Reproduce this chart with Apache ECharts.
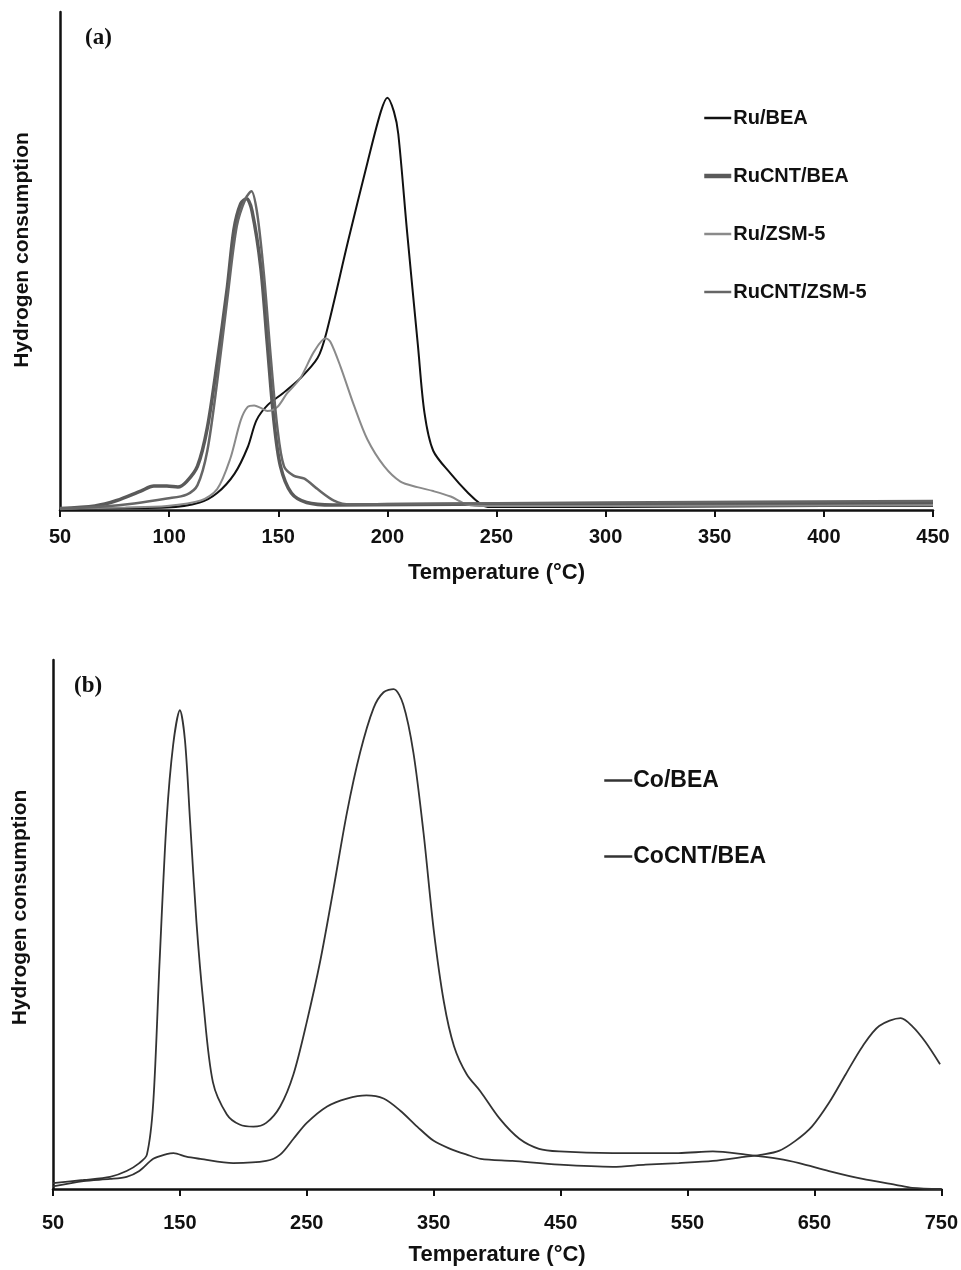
<!DOCTYPE html>
<html>
<head>
<meta charset="utf-8">
<script src="https://cdn.jsdelivr.net/npm/echarts@6/dist/echarts.min.js"></script>
<style>
  html, body { margin: 0; padding: 0; background: #fff; }
  #chart { width: 961px; height: 1270px; }
</style>
</head>
<body>
<div id="chart"></div>
<script>
// (a) Ru catalysts - temperature (°C) / hydrogen consumption (a.u.)
const ruBeaT = [50, 80, 99, 114, 122, 130, 136, 140, 145, 152, 160, 168, 172, 182, 191, 197, 200, 203, 205, 209, 214, 217, 221, 229, 237, 243, 246, 300, 350, 400, 450];
const ruBeaY = [0.3, 0.4, 0.5, 1.5, 3.4, 7.3, 12.6, 18, 21, 23.4, 26.4, 30.5, 35.5, 54, 70, 80, 82.8, 80, 75.5, 56, 33, 19.5, 11.9, 7.3, 3.4, 1.1, 0.6, 0.6, 0.7, 0.8, 0.8];

const ruCntBeaT = [50, 66, 76, 87, 93, 99, 104, 108, 113, 117.5, 122, 126.7, 129.7, 132.8, 135.5, 138, 142, 145, 148, 151, 156, 163, 175, 250, 350, 450];
const ruCntBeaY = [0.3, 0.8, 1.9, 3.8, 4.8, 4.8, 4.6, 5.7, 8.8, 16.5, 29.5, 44.8, 56.3, 61.5, 62.5, 60, 48.7, 33.3, 18, 8.8, 3.4, 1.5, 1.0, 1.2, 1.3, 1.4];

const ruZsmT = [50, 80, 99, 114.5, 122, 128, 132.8, 136, 139, 142, 145, 149.6, 154, 160, 166.4, 171.7, 174, 178.6, 184.7, 190.8, 198.5, 206, 213.7, 221, 229, 236.6, 245, 300, 450];
const ruZsmY = [0.3, 0.5, 0.8, 1.9, 4.2, 10.3, 18, 20.7, 21, 20.5, 19.9, 20.7, 23.4, 26.4, 31.8, 34.5, 33.7, 28.7, 21, 14.2, 8.8, 5.7, 4.6, 3.8, 2.7, 1.1, 0.8, 0.8, 0.9];

const ruCntZsmT = [50, 70, 84, 99, 108, 113, 117.5, 122, 126.7, 131, 135, 137.7, 140.4, 143.5, 146.5, 149.6, 152.6, 157, 162, 168, 175.5, 183, 200, 300, 450];
const ruCntZsmY = [0.3, 0.7, 1.3, 2.3, 3.1, 5, 11.9, 25.7, 42.5, 57, 62.5, 64, 59.4, 47, 31, 16.5, 8.8, 6.9, 6.3, 4.2, 1.9, 1.1, 1.2, 1.5, 1.8];

// (b) Co catalysts
const coBeaT = [50, 74, 95, 108, 118, 124, 129, 134, 139.5, 144.7, 150, 154, 158, 163, 168.4, 176, 187, 197, 208, 218, 229, 239.5, 250, 260.5, 271, 281.6, 292, 302.6, 310.5, 318.4, 326, 334, 342, 350, 358, 366, 376, 387, 402, 417.5, 433, 449, 491, 543, 570, 596, 622, 638, 661.5, 688, 714, 727, 750];
const coBeaY = [1.1, 1.7, 2.3, 3.4, 4.9, 6.5, 16.3, 43, 69.6, 84, 90.5, 84.8, 69.6, 50.6, 35.4, 20.2, 14.1, 12.2, 11.8, 12.5, 15.6, 21.7, 31.6, 43, 56.7, 71.1, 82.5, 90.9, 93.9, 94.5, 91.6, 82.5, 67.3, 49, 35.4, 27, 21.7, 18.4, 13.3, 9.5, 7.6, 7.1, 6.8, 6.8, 7.1, 6.5, 5.7, 4.9, 3.4, 1.9, 0.8, 0.2, 0];

const coCntBeaT = [50, 74, 95, 108, 118, 129, 139.5, 145, 155, 166, 192, 218, 229, 239.5, 250, 266, 281.6, 297, 310.5, 323.7, 337, 350, 363, 376, 387, 412, 449, 491, 517, 543, 570, 596, 609, 622, 635, 648, 661.5, 674.7, 688, 701, 718, 727, 737.5, 749];
const coCntBeaY = [0.5, 1.5, 1.9, 2.3, 3.4, 5.7, 6.6, 6.8, 6.1, 5.7, 4.9, 5.3, 6.5, 9.5, 12.5, 15.6, 17.1, 17.7, 17.1, 14.8, 11.8, 9.1, 7.6, 6.5, 5.7, 5.3, 4.6, 4.2, 4.6, 4.9, 5.3, 6.1, 6.5, 7.2, 9.1, 11.8, 16.3, 21.7, 27, 30.8, 32.3, 30.8, 27.8, 23.6];

const namesA = ['Ru/BEA', 'RuCNT/BEA', 'Ru/ZSM-5', 'RuCNT/ZSM-5'];
const namesB = ['Co/BEA', 'CoCNT/BEA'];

const zip = (t, y) => t.map((v, i) => [v, y[i]]);

const FONT = 'Liberation Sans, Arial, sans-serif';

function xAxisCfg(grid, min, max, interval, labelMargin, nameGap) {
    return {
        type: 'value', gridIndex: grid, min: min, max: max, interval: interval,
        name: 'Temperature (°C)', nameLocation: 'middle', nameGap: nameGap,
        nameTextStyle: { color: '#111', fontSize: 22, fontWeight: 'bold', fontFamily: FONT },
        axisLine: { lineStyle: { color: '#111', width: 2.5 } },
        axisTick: { show: true, length: 7, lineStyle: { color: '#111', width: 2 } },
        axisLabel: { color: '#111', fontSize: 20, fontWeight: 'bold', fontFamily: FONT, margin: labelMargin },
        splitLine: { show: false }
    };
}

function yAxisCfg(grid, nameGap, shift) {
    return {
        type: 'value', gridIndex: grid, min: 0, max: 100,
        name: 'Hydrogen consumption', nameLocation: 'middle', nameGap: nameGap,
        nameTextStyle: { color: '#111', fontSize: 21, fontWeight: 'bold', fontFamily: FONT, padding: [0, 0, 0, shift] },
        axisLine: { show: true, lineStyle: { color: '#111', width: 2.5 } },
        axisTick: { show: false },
        axisLabel: { show: false },
        splitLine: { show: false }
    };
}

function line(name, data, x, color, width) {
    return {
        name: name, type: 'line', xAxisIndex: x, yAxisIndex: x,
        data: data, symbol: 'none', smooth: 0.3,
        lineStyle: { color: color, width: width },
        itemStyle: { color: color }
    };
}

const option = {
    backgroundColor: '#fff',
    animation: false,
    title: [
        { text: '(a)', left: 80, top: 22, textStyle: { fontFamily: 'Liberation Serif, serif', fontSize: 23, fontWeight: 'bold', color: '#111' } },
        { text: '(b)', left: 69, top: 670, textStyle: { fontFamily: 'Liberation Serif, serif', fontSize: 23, fontWeight: 'bold', color: '#111' } }
    ],
    legend: [
        {
            data: namesA.map(n => n === 'RuCNT/BEA' ? { name: n, lineStyle: { width: 4.5 } } : { name: n, lineStyle: { width: 2.5 } }),
            orient: 'vertical', left: 697, top: 103,
            itemWidth: 27, itemHeight: 22, itemGap: 38,
            itemStyle: { opacity: 0 },
            textStyle: { color: '#111', fontSize: 20, fontWeight: 'bold', fontFamily: FONT, padding: [0, 0, 0, -3] }
        },
        {
            data: namesB.map(n => ({ name: n, lineStyle: { width: 2.5 } })),
            orient: 'vertical', left: 598, top: 764,
            itemWidth: 28, itemHeight: 24, itemGap: 53,
            itemStyle: { opacity: 0 },
            textStyle: { color: '#111', fontSize: 23, fontWeight: 'bold', fontFamily: FONT, padding: [0, 0, 0, -4] }
        }
    ],
    grid: [
        { left: 60, right: 28, top: 12, bottom: 760 },
        { left: 53, right: 19, top: 660, bottom: 81 }
    ],
    xAxis: [
        xAxisCfg(0, 50, 450, 50, 17, 52),
        xAxisCfg(1, 50, 750, 100, 24, 55)
    ],
    yAxis: [
        yAxisCfg(0, 27, 22),
        yAxisCfg(1, 22, 34)
    ],
    series: [
        line('Ru/BEA', zip(ruBeaT, ruBeaY), 0, '#111', 2),
        line('RuCNT/BEA', zip(ruCntBeaT, ruCntBeaY), 0, '#5a5a5a', 3.5),
        line('Ru/ZSM-5', zip(ruZsmT, ruZsmY), 0, '#8a8a8a', 2),
        line('RuCNT/ZSM-5', zip(ruCntZsmT, ruCntZsmY), 0, '#666', 2.5),
        line('Co/BEA', zip(coBeaT, coBeaY), 1, '#333', 1.8),
        line('CoCNT/BEA', zip(coCntBeaT, coCntBeaY), 1, '#333', 1.8)
    ]
};

const chart = echarts.init(document.getElementById('chart'));
chart.setOption(option);
</script>
</body>
</html>
